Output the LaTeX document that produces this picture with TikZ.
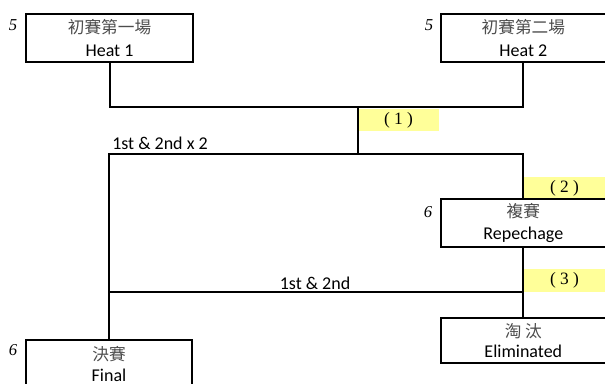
\documentclass[tikz,border=0pt]{standalone}
\usepackage{fontspec}
\setmainfont{Carlito}
\newfontfamily\cjk{Noto Sans CJK TC}
\newfontfamily\tnr{Liberation Serif}
\definecolor{hl}{HTML}{FFFF99}
\begin{document}
\begin{tikzpicture}[x=0.75pt,y=-0.75pt,
  box/.style={draw, line width=1.5pt, minimum height=36pt, align=center, inner sep=0pt,
    font=\fontsize{13.5}{17}\selectfont},
  lbl/.style={fill=hl, minimum width=61pt, minimum height=16.5pt, inner sep=0pt,
    font=\tnr\fontsize{13}{14}\selectfont},
  num/.style={font=\tnr\itshape\fontsize{12.5}{14}\selectfont, inner sep=0pt},
  txt/.style={font=\fontsize{13.5}{15}\selectfont, inner sep=0pt},
  wire/.style={line width=1.5pt}]
\path[use as bounding box] (0,0) rectangle (605,383);
\clip (0,0) rectangle (605,383);
\newcommand{\zh}[1]{{\cjk\fontsize{12.5}{14}\selectfont\color{black!70}#1}}
\newcommand{\sh}{\hspace*{-4pt}}
% yellow labels
\node[lbl, minimum width=60.75pt] (l1) at (398.5,120) {( 1 )};
\node[lbl] (l2) at (564.5,188) {( 2 )};
\node[lbl, minimum height=17.25pt] (l3) at (564.5,280.5) {( 3 )};
% boxes
\node[box, minimum width=125.25pt] (h1) at (109.5,38) {\zh{初賽第一場}\\Heat 1};
\node[box, minimum width=127.5pt] (h2) at (526,38) {\sh\zh{初賽第二場}\\\sh Heat 2};
\node[box, minimum width=127.5pt] (rep) at (526,223) {\sh\zh{複賽}\\\sh Repechage};
\node[box, minimum width=127.5pt, minimum height=33.75pt, font=\fontsize{13.5}{14.5}\selectfont] (elim) at (526,340.5) {\sh\zh{淘 汰}\\\sh Eliminated};
\node[box, minimum width=124.5pt, font=\fontsize{13.5}{15.5}\selectfont] (fin) at (109,364) {\zh{決賽}\\Final};
% numbers
\node[num] (n1) at (13,25) {5};
\node[num] (n2) at (429,25) {5};
\node[num] (n3) at (428,212) {6};
\node[num] (n4) at (13,350) {6};
% junctions
\coordinate (j1) at (358,107);
\coordinate (j2) at (358,154);
\coordinate (j4) at (523,154);
\coordinate (j5) at (109,292);
\coordinate (j6) at (523,292);
% connectors
\draw[wire] (h1.south) |- (j1) -| (j4 |- h2.south);
\draw[wire] (j1) -- (j2);
\draw[wire] (fin.north) |- (j4) -- (j4 |- rep.north);
\draw[wire] (j4 |- rep.south) -- (j4 |- elim.north);
\draw[wire] (j5) -- (j6);
% texts
\node[txt, anchor=west] (t1) at (112,143) {1st \& 2nd x 2};
\node[txt] (t2) at (315,283) {1st \& 2nd};
\end{tikzpicture}
\end{document}
